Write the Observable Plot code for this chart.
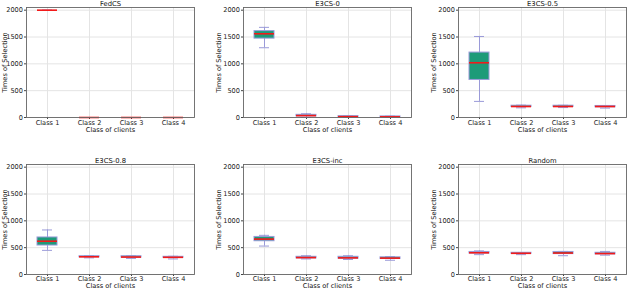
<!DOCTYPE html>
<html><head><meta charset="utf-8">
<script src="https://cdn.jsdelivr.net/npm/d3@7"></script>
<script src="https://cdn.jsdelivr.net/npm/@observablehq/plot@0.6"></script>
<style>
body{margin:0;background:#fff;}
#wrap{position:relative;width:640px;height:306px;overflow:hidden;}
#wrap svg{position:absolute;overflow:visible;}
</style></head><body><div id="wrap"></div>
<script>
const classes = ["Class 1", "Class 2", "Class 3", "Class 4"];
const panels = ["FedCS", "E3CS-0", "E3CS-0.5", "E3CS-0.8", "E3CS-inc", "Random"];
const yTicks = [0, 500, 1000, 1500, 2000];
// per panel, per class
const whiskerLow  = [[2000,0,0,0],[1300,0,5,5],[300,180,185,175],[450,310,300,290],[530,290,280,265],[370,370,350,360]];
const q1          = [[2000,0,0,0],[1470,20,10,8],[700,195,195,190],[540,320,315,310],[620,300,295,290],[390,385,380,375]];
const median      = [[2000,0,0,0],[1560,35,15,12],[1020,205,205,205],[620,330,325,320],[660,315,310,305],[405,395,400,390]];
const q3          = [[2000,0,0,0],[1610,50,25,20],[1210,220,220,215],[690,340,340,330],[700,330,330,320],[420,405,420,405]];
const whiskerHigh = [[2000,0,0,0],[1680,70,30,25],[1510,230,228,222],[830,350,350,340],[730,350,350,335],[440,410,430,430]];

const colAxis = [26, 243, 458];
const rowTop = [0, 153];
const mL = 40, mR = 5, plotW = 168;
const font = "DejaVu Sans, sans-serif";
const wrap = document.getElementById("wrap");

panels.forEach((name, p) => {
  const r = Math.floor(p / 3), c = p % 3;
  const mT = r === 0 ? 7 : 11, mB = r === 0 ? 36 : 32;
  const data = classes.map((cls, i) => ({cls, lo: whiskerLow[p][i], q1: q1[p][i], med: median[p][i], q3: q3[p][i], hi: whiskerHigh[p][i]}));
  const chart = Plot.plot({
    width: mL + plotW + mR, height: mT + 110 + mB,
    marginLeft: mL, marginRight: mR, marginTop: mT, marginBottom: mB,
    style: {fontFamily: font, fontSize: "6.6px", color: "#222", background: "transparent"},
    x: {type: "band", domain: classes, padding: 0},
    y: {domain: [0, 2050]},
    marks: [
      Plot.gridX(classes, {stroke: "#e4e4e4", strokeOpacity: 1}),
      Plot.gridY(yTicks, {stroke: "#e4e4e4", strokeOpacity: 1}),
      Plot.axisY({ticks: yTicks, tickFormat: d => String(d), tickSize: 2, tickPadding: 1.5, label: null, fontSize: "6.6px", fill: "#222", stroke: "#444"}),
      Plot.axisX({tickSize: 2, tickPadding: r === 0 ? 0.5 : 0, label: null, fontSize: "6.6px", fill: "#222", stroke: "#444"}),
      Plot.ruleX(data, {x: "cls", y1: "lo", y2: "hi", stroke: "#9a9ad8", strokeWidth: 1}),
      Plot.tickY(data, {x: "cls", y: "lo", stroke: "#9a9ad8", insetLeft: 16, insetRight: 16}),
      Plot.tickY(data, {x: "cls", y: "hi", stroke: "#9a9ad8", insetLeft: 16, insetRight: 16}),
      Plot.barY(data, {x: "cls", y1: "q1", y2: "q3", fill: "#1d9b78", stroke: "#9a9ad8", strokeWidth: 1, insetLeft: 11, insetRight: 11}),
      Plot.tickY(data, {x: "cls", y: "med", stroke: "#f21a1a", strokeWidth: 1.6, insetLeft: 11, insetRight: 11}),
      Plot.frame({stroke: "#666", strokeWidth: 0.9}),
      Plot.text([name], {frameAnchor: "top", dy: -6, fontSize: 6.8, fill: "#111"}),
      Plot.text(["Times of Selection"], {frameAnchor: "left", textAnchor: "middle", rotate: -90, dx: c === 0 ? -21.5 : -25, fontSize: 6.6, fill: "#111"}),
      Plot.text(["Class of clients"], {frameAnchor: "bottom", dy: r === 0 ? 14 : 13.5, fontSize: 6.6, fill: "#111"})
    ]
  });
  chart.style.left = (colAxis[c] - mL) + "px";
  chart.style.top = rowTop[r] + "px";
  wrap.appendChild(chart);
});
</script></body></html>
